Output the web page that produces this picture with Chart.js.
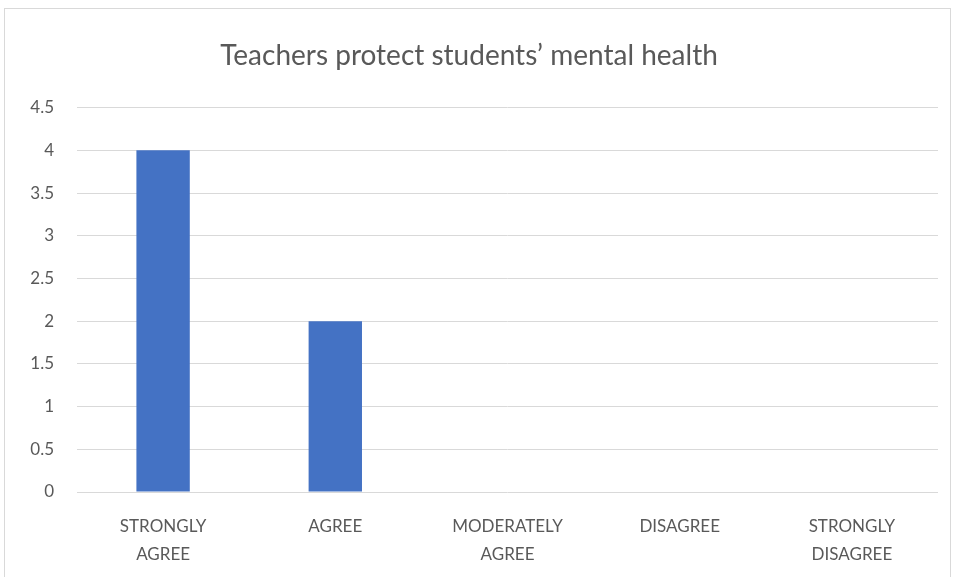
<!DOCTYPE html>
<html>
<head>
<meta charset="utf-8">
<script src="https://cdn.jsdelivr.net/npm/chart.js@4"></script>
<style>
  html, body { margin: 0; padding: 0; background: #fff; }
  #wrap { position: relative; width: 959px; height: 577px; }
  #frame { position: absolute; left: 4px; top: 8px; width: 947px; height: 580px; border: 1px solid #d9d9d9; box-sizing: border-box; }
  #c { position: absolute; left: 0; top: 0; }
</style>
</head>
<body>
<div id="wrap">
  <div id="frame"></div>
  <canvas id="c" width="959" height="577"></canvas>
</div>
<script>
const categories = [
  ['STRONGLY', 'AGREE'],
  'AGREE',
  ['MODERATELY', 'AGREE'],
  'DISAGREE',
  ['STRONGLY', 'DISAGREE']
];
const responses = [4, 2, 0, 0, 0];
const yTicks = [0, 0.5, 1, 1.5, 2, 2.5, 3, 3.5, 4, 4.5];

const textColor = '#595959';
const fontFamily = 'Lato, "Open Sans", sans-serif';

new Chart(document.getElementById('c'), {
  type: 'bar',
  data: {
    labels: categories,
    datasets: [{
      label: 'Responses',
      data: responses,
      backgroundColor: '#4472c4',
      barPercentage: 0.62,
      categoryPercentage: 0.5
    }]
  },
  options: {
    responsive: false,
    animation: false,
    layout: { padding: { left: 0, right: 21, top: 0, bottom: 0 } },
    plugins: {
      legend: { display: false },
      tooltip: { enabled: false },
      title: {
        display: true,
        text: 'Teachers protect students\u2019 mental health',
        color: textColor,
        font: { family: fontFamily, size: 28, weight: 'normal' },
        padding: { top: 39, bottom: 35 }
      }
    },
    scales: {
      x: {
        grid: { display: false },
        border: { display: false },
        ticks: {
          color: textColor,
          font: { family: fontFamily, size: 17, lineHeight: 1.65 },
          maxRotation: 0,
          padding: 12
        },
        afterFit: s => { s.height = 85; }
      },
      y: {
        min: 0,
        max: 4.5,
        afterBuildTicks: s => { s.ticks = yTicks.map(v => ({ value: v })); },
        grid: { color: '#d9d9d9', lineWidth: 1, drawTicks: false },
        border: { display: false },
        ticks: {
          color: textColor,
          font: { family: fontFamily, size: 17 },
          padding: 23,
          callback: v => String(v)
        },
        afterFit: s => { s.width = 77; }
      }
    }
  }
});
</script>
</body>
</html>
